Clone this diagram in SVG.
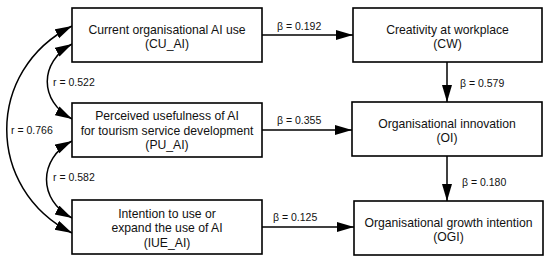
<svg xmlns="http://www.w3.org/2000/svg" width="550" height="262" viewBox="0 0 550 262">
<style>
.box{fill:#fff;stroke:#000;stroke-width:1.6}
.nt{font-family:"Liberation Sans",Arial,sans-serif;font-size:12.2px;fill:#111;text-anchor:middle}
.el{font-family:"Liberation Sans",Arial,sans-serif;font-size:10.5px;fill:#111}
.ln{fill:none;stroke:#000;stroke-width:1.5}
</style>
<defs>
<marker id="ah" markerUnits="userSpaceOnUse" markerWidth="18" markerHeight="11" refX="17" refY="5" orient="auto-start-reverse">
<path d="M0,0 L17,5 L0,10 z" fill="#000"/>
</marker>
</defs>
<rect width="550" height="262" fill="#fff"/>
<g id="connectors">
<path class="ln" d="M262,35 L353,35" marker-end="url(#ah)"/>
<path class="ln" d="M262,130 L352,130" marker-end="url(#ah)"/>
<path class="ln" d="M262,227 L354,227" marker-end="url(#ah)"/>
<path class="ln" d="M447,62 L447,102" marker-end="url(#ah)"/>
<path class="ln" d="M447,156 L447,201" marker-end="url(#ah)"/>
<path class="ln" d="M72,26 C-15,70 -15,189 72,233" marker-start="url(#ah)" marker-end="url(#ah)"/>
<path class="ln" d="M72,44 C39,62 39,101 72,119" marker-start="url(#ah)" marker-end="url(#ah)"/>
<path class="ln" d="M72,141 C38,159 38,200 72,218" marker-start="url(#ah)" marker-end="url(#ah)"/>
<text class="el" x="277" y="30">β = 0.192</text>
<text class="el" x="277" y="124">β = 0.355</text>
<text class="el" x="273" y="221">β = 0.125</text>
<text class="el" x="460" y="87">β = 0.579</text>
<text class="el" x="462" y="186">β = 0.180</text>
<text class="el" x="53" y="86">r = 0.522</text>
<text class="el" x="11" y="134">r = 0.766</text>
<text class="el" x="53" y="181">r = 0.582</text>
</g>
<g id="CU_AI">
<rect class="box" x="72" y="8" width="190" height="54"/>
<text class="nt" x="167" y="34">Current organisational AI use</text>
<text class="nt" x="167" y="48">(CU_AI)</text>
</g>
<g id="PU_AI">
<rect class="box" x="72" y="103" width="190" height="54"/>
<text class="nt" x="167" y="120">Perceived usefulness of AI</text>
<text class="nt" x="167" y="134.5">for tourism service development</text>
<text class="nt" x="167" y="149">(PU_AI)</text>
</g>
<g id="IUE_AI">
<rect class="box" x="72" y="200" width="190" height="54"/>
<text class="nt" x="167" y="217.5">Intention to use or</text>
<text class="nt" x="167" y="232">expand the use of AI</text>
<text class="nt" x="167" y="246.5">(IUE_AI)</text>
</g>
<g id="CW">
<rect class="box" x="353" y="8" width="189" height="54"/>
<text class="nt" x="447.5" y="34">Creativity at workplace</text>
<text class="nt" x="447.5" y="48">(CW)</text>
</g>
<g id="OI">
<rect class="box" x="352" y="102" width="190" height="54"/>
<text class="nt" x="447" y="128">Organisational innovation</text>
<text class="nt" x="447" y="142">(OI)</text>
</g>
<g id="OGI">
<rect class="box" x="354" y="201" width="189" height="54"/>
<text class="nt" x="448.5" y="227">Organisational growth intention</text>
<text class="nt" x="448.5" y="241">(OGI)</text>
</g>
</svg>
